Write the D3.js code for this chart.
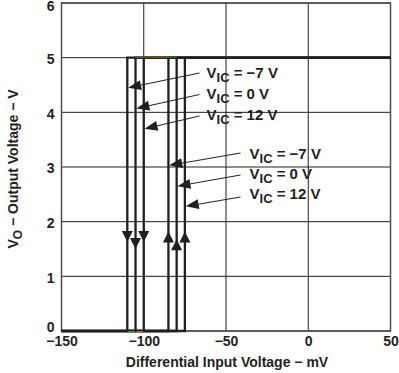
<!DOCTYPE html>
<html>
<head>
<meta charset="utf-8">
<script src="https://cdn.jsdelivr.net/npm/d3@7"></script>
<style>
  body { margin: 0; background: #fff; }
  text { font-family: "Liberation Sans", Arial, sans-serif; font-weight: bold; fill: #231f20; }
</style>
</head>
<body>
<div id="chart"></div>
<script>
// data
var vicLabels = ["\u22127 V", "0 V", "12 V"];
var fallAt = [-110, -105, -100];   // mV, output goes 5 -> 0
var riseAt = [-85, -80, -75];      // mV, output goes 0 -> 5
var vHigh = 5, vLow = 0;
var xTicks = [-150, -100, -50, 0, 50];
var yTicks = [0, 1, 2, 3, 4, 5, 6];
// where the arrows on the transitions sit (output voltage of the tip)
var downTip = [1.63, 1.5, 1.63];
var upTip = [1.82, 1.68, 1.82];
// label pointers: [tip x (mV), tip y (V)]
var fallPtr = [[-109.5, 4.45], [-104.5, 4.07], [-99.5, 3.7]];
var risePtr = [[-84.5, 3.03], [-79.5, 2.65], [-74.5, 2.28]];

var W = 399, H = 373;
var margin = {top: 3, right: 8.5, bottom: 42, left: 61.5};
var width = W - margin.left - margin.right;
var height = H - margin.top - margin.bottom;

var svg = d3.select("#chart").append("svg")
    .attr("width", W).attr("height", H);

var g = svg.append("g")
    .attr("transform", "translate(" + margin.left + "," + margin.top + ")");

var x = d3.scaleLinear().domain([-150, 50]).range([0, width]);
var y = d3.scaleLinear().domain([0, 6]).range([height, 0]);

// grid
g.selectAll(".vgrid").data(xTicks).enter().append("line")
    .attr("x1", d => x(d)).attr("x2", d => x(d))
    .attr("y1", 0).attr("y2", height)
    .attr("stroke", "#231f20").attr("stroke-width", 1);
g.selectAll(".hgrid").data(yTicks).enter().append("line")
    .attr("y1", d => y(d)).attr("y2", d => y(d))
    .attr("x1", 0).attr("x2", width)
    .attr("stroke", "#231f20").attr("stroke-width", 1);
g.append("rect").attr("width", width).attr("height", height)
    .attr("fill", "none").attr("stroke", "#4d4d4d").attr("stroke-width", 1.5);

// axes (labels only)
var xAxis = d3.axisBottom(x).tickValues(xTicks).tickSize(0).tickPadding(5)
    .tickFormat(d => d < 0 ? "\u2212" + Math.abs(d) : d);
var yAxis = d3.axisLeft(y).tickValues(yTicks).tickSize(0).tickPadding(7)
    .tickFormat(d3.format("d"));

g.append("g").attr("transform", "translate(0," + height + ")").call(xAxis)
    .call(a => a.select(".domain").remove())
    .selectAll("text").style("font-size", "14px").attr("fill", "#231f20");
g.append("g").call(yAxis)
    .call(a => a.select(".domain").remove())
    .selectAll("text").style("font-size", "14px").attr("fill", "#231f20")
    .attr("dy", d => d === 0 ? "0.05em" : d === 6 ? "0.55em" : "0.42em");

// hysteresis loops
var line = d3.line().x(d => x(d[0])).y(d => y(d[1]));
vicLabels.forEach(function (lab, i) {
  var pts = [[50, vHigh], [fallAt[i], vHigh], [fallAt[i], vLow],
             [-150, vLow], [riseAt[i], vLow], [riseAt[i], vHigh], [50, vHigh]];
  g.append("path").datum(pts).attr("d", line)
    .attr("fill", "none").attr("stroke", "#231f20").attr("stroke-width", 2.3)
    .attr("stroke-linejoin", "miter");
});
// faint trace colours seen at the edges
g.append("line").attr("x1", x(fallAt[1])).attr("x2", x(riseAt[0]))
  .attr("y1", y(vHigh) - 0.5).attr("y2", y(vHigh) - 0.5)
  .attr("stroke", "#8a6d1f").attr("stroke-width", 1);
g.append("line").attr("x1", x(riseAt[0])).attr("x2", x(riseAt[1]))
  .attr("y1", y(vHigh) - 0.5).attr("y2", y(vHigh) - 0.5)
  .attr("stroke", "#2e8b3a").attr("stroke-width", 1);
g.append("line").attr("x1", x(fallAt[0]) + 1).attr("x2", x(fallAt[1]) - 1)
  .attr("y1", y(vLow) + 0.5).attr("y2", y(vLow) + 0.5)
  .attr("stroke", "#3a9a45").attr("stroke-width", 1);
g.append("line").attr("x1", x(fallAt[1]) + 1).attr("x2", x(fallAt[2]) - 1)
  .attr("y1", y(vLow) + 0.5).attr("y2", y(vLow) + 0.5)
  .attr("stroke", "#a07a25").attr("stroke-width", 1);

// direction arrowheads on transitions
function tri(cx, cy, dir, w, h) {
  // dir 1 = pointing down, -1 = up ; (cx, cy) = tip
  return "M" + cx + "," + cy + "L" + (cx - w / 2) + "," + (cy - dir * h) +
         "L" + (cx + w / 2) + "," + (cy - dir * h) + "Z";
}
fallAt.forEach(function (v, i) {
  g.append("path").attr("d", tri(x(v), y(downTip[i]), 1, 11, 11)).attr("fill", "#231f20");
});
riseAt.forEach(function (v, i) {
  g.append("path").attr("d", tri(x(v), y(upTip[i]), -1, 11, 11)).attr("fill", "#231f20");
});

// pointer labels
function pointer(tip, tail) {
  var tx = x(tip[0]), ty = y(tip[1]);
  var ang = Math.atan2(tail[1] - ty, tail[0] - tx);
  var L = 13, Wd = 5;
  var bx = tx + L * Math.cos(ang), by = ty + L * Math.sin(ang);
  g.append("line").attr("x1", bx).attr("y1", by).attr("x2", tail[0]).attr("y2", tail[1])
    .attr("stroke", "#231f20").attr("stroke-width", 1);
  g.append("path").attr("fill", "#231f20")
    .attr("d", "M" + tx + "," + ty +
      "L" + (bx + Wd * Math.sin(ang)) + "," + (by - Wd * Math.cos(ang)) +
      "L" + (bx - Wd * Math.sin(ang)) + "," + (by + Wd * Math.cos(ang)) + "Z");
}
function vicText(px, py, lab) {
  var t = g.append("text").attr("x", px).attr("y", py).style("font-size", "15px");
  t.append("tspan").text("V");
  t.append("tspan").attr("dy", 4).style("font-size", "13px").text("IC");
  t.append("tspan").attr("dy", -4).text(" = " + lab);
}
vicLabels.forEach(function (lab, i) {
  pointer(fallPtr[i], [138, 73 + i * 21.5 - margin.top]);
  vicText(145, 78 + i * 21 - margin.top, lab);
  pointer(risePtr[i], [179, 153 + i * 22 - margin.top]);
  vicText(188, 159 + i * 20 - margin.top, lab);
});

// axis titles
svg.append("text").attr("x", margin.left + width / 2 + 1).attr("y", 367)
  .attr("text-anchor", "middle").style("font-size", "14px")
  .text("Differential Input Voltage \u2212 mV");
var yt = svg.append("text").attr("transform", "translate(18," + (margin.top + height / 2 + 2) + ") rotate(-90)")
  .attr("text-anchor", "middle").style("font-size", "14px");
yt.append("tspan").text("V");
yt.append("tspan").attr("dy", 4).style("font-size", "12px").text("O");
yt.append("tspan").attr("dy", -4).text(" \u2212 Output Voltage \u2212 V");
</script>
</body>
</html>
